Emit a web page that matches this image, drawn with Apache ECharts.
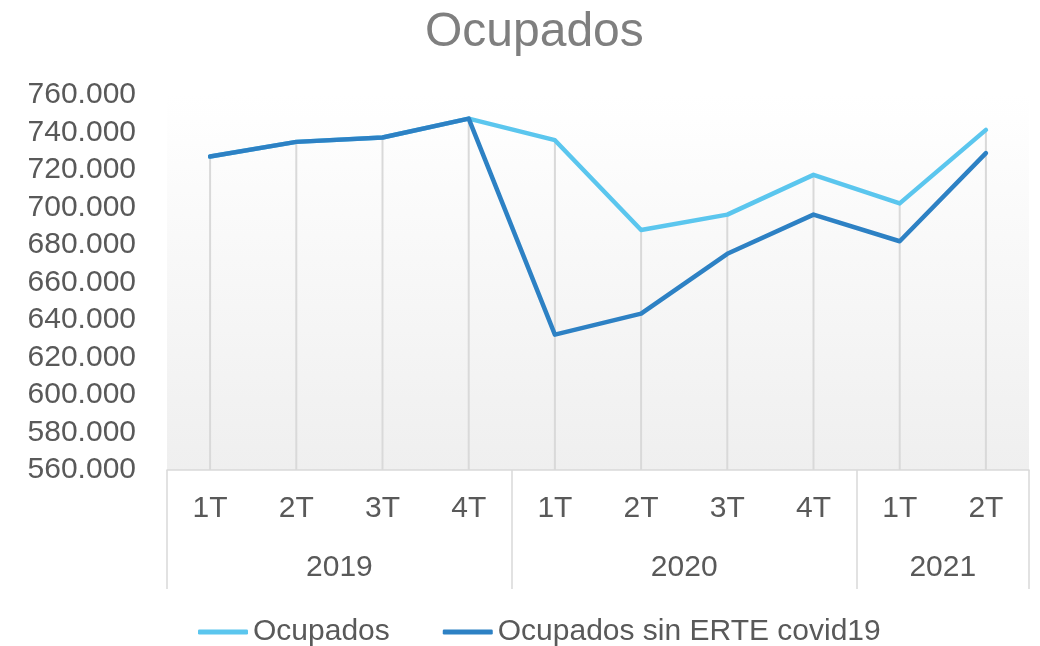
<!DOCTYPE html>
<html>
<head>
<meta charset="utf-8">
<script src="https://cdn.jsdelivr.net/npm/echarts@6/dist/echarts.min.js"></script>
<style>html,body{margin:0;padding:0;background:#fff;}#c{width:1040px;height:646px;}</style>
</head>
<body>
<div id="c"></div>
<script>
var quarters = ['1T','2T','3T','4T','1T','2T','3T','4T','1T','2T'];
var years = ['2019','2020','2021'];
var yearSpans = [4, 4, 2];
var ocupados = [727200, 735000, 737300, 747400, 735900, 688000, 696200, 717400, 702200, 741400];
var sinErte  = [727200, 735000, 737300, 747400, 632200, 643400, 675300, 696200, 682000, 729000];
var yMin = 560000, yMax = 760000, yStep = 20000;

var dropLines = ocupados.map(function (v, i) { return Math.max(v, sinErte[i]); });
var bounds = [0], centers = [], acc = 0;
yearSpans.forEach(function (n) { centers.push(acc + n / 2); acc += n; bounds.push(acc); });

var FONT = 'Liberation Sans';
var TXT = '#595959';
var LIGHT = '#5bc6ee', DARK = '#2d81c4';
var chart = echarts.init(document.getElementById('c'));
chart.setOption({
  animation: false,
  backgroundColor: '#ffffff',
  textStyle: { fontFamily: FONT },
  title: {
    text: 'Ocupados', left: 420, top: 4,
    textStyle: { fontFamily: FONT, fontSize: 48, fontWeight: 'normal', color: '#7f7f7f' }
  },
  legend: {
    data: [
      { name: 'Ocupados', icon: 'roundRect', itemStyle: { color: LIGHT } },
      { name: 'Ocupados sin ERTE covid19', icon: 'roundRect', itemStyle: { color: DARK } }
    ],
    left: 193, top: 612, itemWidth: 50, itemHeight: 5, itemGap: 53,
    textStyle: { fontFamily: FONT, fontSize: 30, color: TXT }
  },
  grid: {
    left: 167, right: 11, top: 95, height: 375, show: true, borderWidth: 0,
    backgroundColor: new echarts.graphic.LinearGradient(0, 0, 0, 1, [
      { offset: 0, color: '#ffffff' }, { offset: 1, color: '#efefef' }
    ])
  },
  xAxis: [{
    type: 'category', data: quarters, boundaryGap: true,
    axisLine: { show: true, lineStyle: { color: '#d9d9d9', width: 1.5 } },
    axisTick: { show: false }, splitLine: { show: false },
    axisLabel: { interval: 0, margin: 24, fontSize: 30, color: TXT, fontFamily: FONT }
  }, {
    type: 'value', position: 'bottom', min: 0, max: bounds[bounds.length - 1],
    axisLine: { show: false }, splitLine: { show: false },
    axisTick: { show: true, customValues: bounds, length: 119, lineStyle: { color: '#d9d9d9', width: 1.5 } },
    axisLabel: {
      customValues: centers, margin: 83, fontSize: 30, color: TXT, fontFamily: FONT,
      formatter: function (v) { var i = centers.indexOf(v); return i >= 0 ? years[i] : ''; }
    }
  }],
  yAxis: {
    type: 'value', min: yMin, max: yMax, interval: yStep,
    axisLine: { show: false }, axisTick: { show: false }, splitLine: { show: false },
    axisLabel: {
      margin: 31, fontSize: 30, color: TXT, fontFamily: FONT,
      formatter: function (v) { return Math.round(v / 1000) + '.000'; }
    }
  },
  series: [{
    name: 'drop', type: 'bar', data: dropLines, barWidth: 2, z: 1, silent: true,
    itemStyle: { color: '#d9d9d9' }
  }, {
    name: 'Ocupados', type: 'line', data: ocupados, symbol: 'none', z: 3,
    lineStyle: { color: LIGHT, width: 4.5, cap: 'round', join: 'round' }, itemStyle: { color: LIGHT }
  }, {
    name: 'Ocupados sin ERTE covid19', type: 'line', data: sinErte, symbol: 'none', z: 4,
    lineStyle: { color: DARK, width: 4.5, cap: 'round', join: 'round' }, itemStyle: { color: DARK }
  }]
});
</script>
</body>
</html>
